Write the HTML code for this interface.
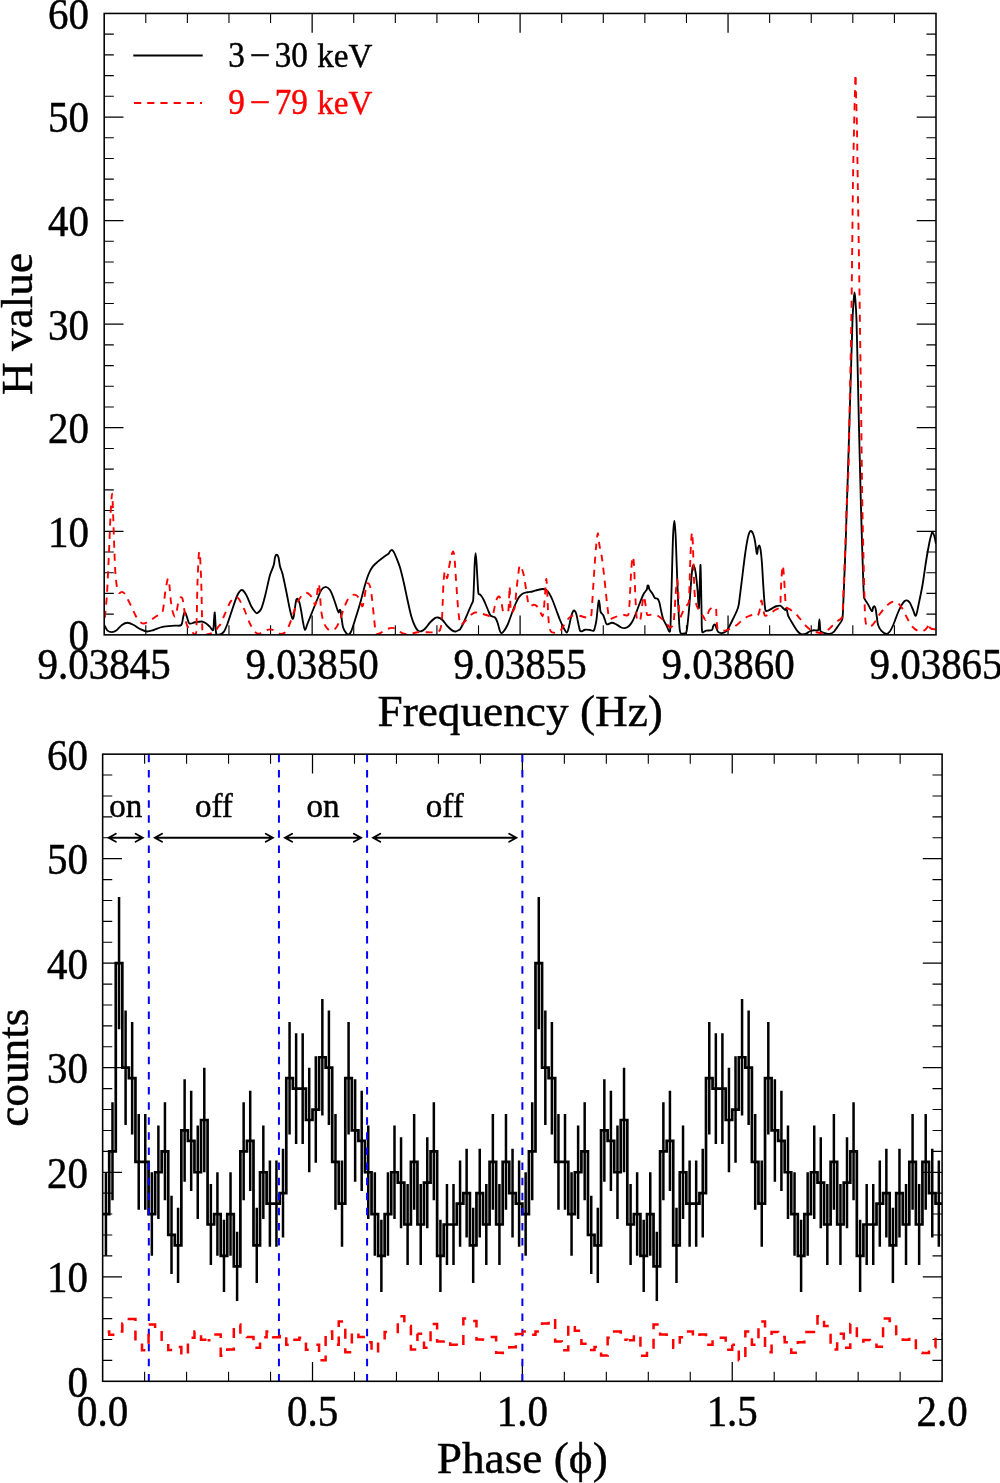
<!DOCTYPE html>
<html lang="en">
<head>
<meta charset="utf-8">
<title>H-test periodogram and pulse profile</title>
<style>
html,body{margin:0;padding:0;background:#fff;}
body{width:1000px;height:1483px;overflow:hidden;font-family:"Liberation Serif", "DejaVu Serif", serif;}
svg text{font-family:"Liberation Serif", "DejaVu Serif", serif;stroke:currentColor;stroke-width:0.45px;paint-order:stroke fill;}
</style>
</head>
<body>
<svg width="1000" height="1483" viewBox="0 0 1000 1483" style="display:block;font-family:'Liberation Serif', 'DejaVu Serif', serif">
<rect width="1000" height="1483" fill="#fff"/>
<g id="top-panel">
<path d="M312.15,634.85v-19.3 M312.15,13.45v19.3M520.1,634.85v-19.3 M520.1,13.45v19.3M728.05,634.85v-19.3 M728.05,13.45v19.3M104.2,531.28h19.3 M936,531.28h-19.3M104.2,427.72h19.3 M936,427.72h-19.3M104.2,324.15h19.3 M936,324.15h-19.3M104.2,220.58h19.3 M936,220.58h-19.3M104.2,117.02h19.3 M936,117.02h-19.3" stroke="#000" stroke-width="1.25" fill="none"/>
<path d="M145.79,634.85v-9.6 M145.79,13.45v9.6M187.38,634.85v-9.6 M187.38,13.45v9.6M228.97,634.85v-9.6 M228.97,13.45v9.6M270.56,634.85v-9.6 M270.56,13.45v9.6M353.74,634.85v-9.6 M353.74,13.45v9.6M395.33,634.85v-9.6 M395.33,13.45v9.6M436.92,634.85v-9.6 M436.92,13.45v9.6M478.51,634.85v-9.6 M478.51,13.45v9.6M561.69,634.85v-9.6 M561.69,13.45v9.6M603.28,634.85v-9.6 M603.28,13.45v9.6M644.87,634.85v-9.6 M644.87,13.45v9.6M686.46,634.85v-9.6 M686.46,13.45v9.6M769.64,634.85v-9.6 M769.64,13.45v9.6M811.23,634.85v-9.6 M811.23,13.45v9.6M852.82,634.85v-9.6 M852.82,13.45v9.6M894.41,634.85v-9.6 M894.41,13.45v9.6M104.2,614.14h9.6 M936,614.14h-9.6M104.2,593.42h9.6 M936,593.42h-9.6M104.2,572.71h9.6 M936,572.71h-9.6M104.2,552h9.6 M936,552h-9.6M104.2,510.57h9.6 M936,510.57h-9.6M104.2,489.86h9.6 M936,489.86h-9.6M104.2,469.14h9.6 M936,469.14h-9.6M104.2,448.43h9.6 M936,448.43h-9.6M104.2,407h9.6 M936,407h-9.6M104.2,386.29h9.6 M936,386.29h-9.6M104.2,365.58h9.6 M936,365.58h-9.6M104.2,344.86h9.6 M936,344.86h-9.6M104.2,303.44h9.6 M936,303.44h-9.6M104.2,282.72h9.6 M936,282.72h-9.6M104.2,262.01h9.6 M936,262.01h-9.6M104.2,241.3h9.6 M936,241.3h-9.6M104.2,199.87h9.6 M936,199.87h-9.6M104.2,179.16h9.6 M936,179.16h-9.6M104.2,158.44h9.6 M936,158.44h-9.6M104.2,137.73h9.6 M936,137.73h-9.6M104.2,96.3h9.6 M936,96.3h-9.6M104.2,75.59h9.6 M936,75.59h-9.6M104.2,54.88h9.6 M936,54.88h-9.6M104.2,34.16h9.6 M936,34.16h-9.6" stroke="#000" stroke-width="1.1" fill="none"/>
<clipPath id="ct"><rect x="104.2" y="13.45" width="831.8" height="621.4"/></clipPath>
<g clip-path="url(#ct)" fill="none" stroke-linejoin="round">
<path d="M104.25,625C104.79,625.93 106.22,629.42 107.5,630.6C108.64,631.65 110.44,632.1 111.9,632.1C113.36,632.1 115,631.49 116.25,630.6C117.92,629.42 120.03,626.31 121.9,625C123.55,623.85 125.53,622.75 127.5,622.75C129.47,622.75 131.77,624.01 133.75,625C135.83,626.04 137.81,627.92 140,629C142.19,630.08 144.61,631.33 146.9,631.5C149.19,631.67 151.51,630.66 153.75,630C156.35,629.23 159.47,627.53 162.5,626.9C166.04,626.17 171.88,625.92 175,625.6C177.08,625.39 179.9,626.35 181.25,625C182.6,623.65 182.52,619.68 183.1,617.5C183.6,615.62 184.12,612 184.75,611.9C185.38,611.8 186.22,615.22 186.9,616.9C187.68,618.83 188.05,622.61 189.4,623.5C190.75,624.39 193.11,622.55 195,622.25C197.08,621.92 200.03,621.29 201.9,621.5C203.49,621.68 204.92,622.61 206.25,623.5C207.6,624.4 208.86,625.82 210,626.9C211.06,627.91 212.43,631.15 213.1,630C213.77,628.85 213.72,622.92 214,620C214.24,617.5 214.5,611.88 214.75,612.5C215,613.12 215.25,620.21 215.5,623.75C215.74,627.08 215.6,631.94 216.25,633.75C216.62,634.77 218.34,634.86 219.4,634.6C220.65,634.29 222.73,633.27 223.75,631.9C225.1,630.09 226.44,626.55 227.5,623.75C228.96,619.89 230.83,613.54 232.5,608.75C234.1,604.14 235.93,598.12 237.5,595C238.49,593.02 240.44,590 241.9,590C243.36,590 245.15,593.09 246.25,595C247.81,597.71 249.69,603.33 251.25,606.25C252.45,608.49 254.56,611.36 255.6,612.5C256.05,612.99 256.95,613.47 257.5,613.1C258.44,612.48 260.47,610.5 261.25,608.75C262.5,605.94 263.91,600.46 265,596.25C266.46,590.62 268.54,580.21 270,575C270.96,571.57 272.92,567.92 273.75,565C274.45,562.56 274.52,559.21 275,557.5C275.28,556.48 276.02,554.75 276.6,554.75C277.18,554.75 278.18,556.43 278.5,557.5C279.07,559.42 279.33,563.54 280,566.25C280.63,568.81 281.86,571.19 282.5,573.75C283.54,577.92 285.04,585.41 286.25,591.25C287.5,597.29 288.96,605.42 290,610C290.67,612.96 291.88,617.71 292.5,618.75C292.98,619.55 293.55,617.16 293.75,616.25C294.17,614.38 294.58,610.21 295,607.5C295.39,604.99 295.83,601.46 296.25,600C296.41,599.43 297.04,598.38 297.5,598.75C298.02,599.17 299,601.16 299.4,602.5C300.02,604.58 300.71,608.32 301.25,611.25C301.87,614.58 302.48,619.38 303.1,622.5C303.61,625.03 304.27,629.79 305,630C305.73,630.21 306.67,625.83 307.5,623.75C308.75,620.62 310.83,615.42 312.5,611.25C314.17,607.08 316.04,602.29 317.5,598.75C318.71,595.82 319.9,591.98 321.25,590C322.25,588.53 324.14,586.9 325.6,586.9C327.06,586.9 328.98,588.52 330,590C331.36,591.98 332.64,595.78 333.75,598.75C335,602.08 336.67,607.71 337.5,610C337.82,610.88 338.38,612.5 338.75,612.5C339.12,612.5 339.44,610.32 339.75,610C339.99,609.75 340.52,610.26 340.6,610.6C340.89,611.85 341.16,615.21 341.5,617.5C341.92,620.32 342.31,624.9 343.1,627.5C343.72,629.55 345.35,631.92 346.25,633.1C346.8,633.82 347.67,634.91 348.5,634.6C349.33,634.29 350.66,632.57 351.25,631.25C352.33,628.82 353.8,623.77 355,620C356.46,615.42 358.44,609.2 360,603.75C361.67,597.92 363.54,590 365,585C366.11,581.21 367.5,576.77 368.75,573.75C369.75,571.35 371.04,568.88 372.5,566.9C373.9,565 375.74,563.47 377.5,561.9C379.38,560.23 381.88,558.3 383.75,556.9C385.36,555.69 387.71,554.44 388.75,553.5C389.39,552.92 389.48,551.83 390,551.25C390.51,550.69 391.27,549.89 391.9,550C392.52,550.11 393.31,551.14 393.75,551.9C394.48,553.15 395.49,555.6 396.25,557.5C397.29,560.1 398.98,564.09 400,567.5C401.25,571.67 402.59,577.48 403.75,582.5C405,587.92 406.25,594.38 407.5,600C408.71,605.43 410,611.88 411.25,616.25C412.23,619.67 413.86,623.86 415,626.25C415.77,627.86 417.06,629.77 418.1,630.6C418.94,631.27 420.21,631.53 421.25,631.25C422.4,630.94 423.94,629.81 425,628.75C426.46,627.29 428.33,624.27 430,622.5C431.52,620.88 433.65,618.93 435,618.1C435.9,617.55 437.08,617.24 438.1,617.5C439.35,617.82 441.27,618.85 442.5,620C444.07,621.46 445.83,624.48 447.5,626.25C449.02,627.86 451.15,629.73 452.5,630.6C453.4,631.19 454.56,631.6 455.6,631.5C456.64,631.4 458.02,630.35 458.75,630C459.17,629.8 459.74,629.78 460,629.4C460.83,628.15 462.62,624.86 463.75,622.5C465,619.89 466.25,616.67 467.5,613.75C468.75,610.83 470.32,607.19 471.25,605C471.87,603.54 472.91,602.18 473.1,600.6C473.56,596.85 473.74,588.54 474,582.5C474.27,576.15 474.48,567.4 474.75,562.5C474.92,559.36 475.31,553.1 475.6,553.1C475.89,553.1 476.28,559.36 476.5,562.5C476.82,566.98 477.17,574.79 477.5,580C477.79,584.59 477.98,591.25 478.5,593.75C478.66,594.55 480.08,594.38 480.6,595C481.48,596.04 482.87,598.24 483.75,600C484.9,602.29 486.36,606.15 487.5,608.75C488.51,611.04 489.35,614.14 490.6,615.6C491.64,616.81 493.87,616.37 495,617.5C496.15,618.65 496.86,620.75 497.5,622.5C498.33,624.79 499.33,629.48 500,631.25C500.28,631.99 500.88,633.1 501.5,633.1C502.12,633.1 503.17,632.03 503.75,631.25C504.75,629.9 506.48,627.21 507.5,625C508.75,622.29 510,618.33 511.25,615C512.5,611.67 513.75,607.92 515,605C516.1,602.43 517.5,599.38 518.75,597.5C519.73,596.03 521.04,594.62 522.5,593.75C523.96,592.88 525.83,592.62 527.5,592.25C529.14,591.88 530.86,591.87 532.5,591.5C534.17,591.12 535.83,590.42 537.5,590C539.15,589.59 541.04,589 542.5,589C543.79,589 545.18,589.27 546.25,590C547.4,590.79 548.53,592.37 549.4,593.75C550.44,595.42 551.6,597.86 552.5,600C553.64,602.71 555,606.67 556.25,610C557.5,613.33 558.75,616.98 560,620C561.14,622.75 562.6,626.02 563.75,628.1C564.62,629.68 566.07,632.6 566.9,632.5C567.73,632.4 568.29,629.22 568.75,627.5C569.48,624.79 570.52,618.96 571.25,616.25C571.71,614.53 572.58,612.19 573.1,611.25C573.34,610.83 574.02,610.3 574.4,610.6C574.92,611.02 575.89,612.59 576.25,613.75C576.87,615.73 577.48,619.69 578.1,622.5C578.7,625.21 579.37,629.14 580,630.6C580.27,631.21 581.24,631.36 581.9,631.25C582.73,631.11 583.87,629.93 585,629.75C586.35,629.54 588.54,629.86 590,630C591.26,630.12 593.01,631.63 593.75,630.6C594.79,629.14 595.67,624.42 596.25,621.25C596.88,617.82 597.08,613.44 597.5,610C597.88,606.86 598.38,601.43 598.75,600.6C599.12,599.77 599.51,603.52 599.75,605C600.06,606.88 600.04,610.23 600.6,611.9C601.02,613.16 602.47,613.83 603.1,615C603.83,616.35 604.37,618.43 605,620C605.6,621.48 605.75,623.94 606.9,624.4C608.05,624.86 610.34,622.75 611.9,622.75C613.45,622.75 614.87,623.7 616.25,624.4C617.81,625.19 619.79,626.88 621.25,627.5C622.42,627.99 623.75,628.31 625,628.1C626.25,627.89 627.72,627.19 628.75,626.25C630,625.11 631.5,623.08 632.5,621.25C633.75,618.96 635.07,615.45 636.25,612.5C637.5,609.38 638.75,605.62 640,602.5C641.18,599.55 642.6,595.93 643.75,593.75C644.58,592.17 646.27,590.76 646.9,589.4C647.44,588.24 647.23,586.23 647.5,585.6C647.63,585.29 648.35,585.3 648.5,585.6C648.82,586.23 648.83,588.23 649.4,589.4C650.07,590.76 651.57,592.3 652.5,593.75C653.41,595.16 654.17,597.27 655,598.1C655.61,598.71 656.89,598.14 657.5,598.75C658.23,599.48 659,601.16 659.4,602.5C660.02,604.58 660.63,608.54 661.25,611.25C661.82,613.76 662.27,616.46 663.1,618.75C663.9,620.94 665.12,622.96 666.25,625C667.4,627.08 669.36,633.59 670,631.25C670.79,628.33 670.73,615.42 671,607.5C671.32,598.33 671.6,586.67 671.9,576.25C672.25,564.17 672.68,544.27 673.1,535C673.32,530.19 673.98,520.6 674.4,520.6C674.82,520.6 675.36,530.19 675.6,535C676.02,543.23 676.48,558.96 676.9,570C677.29,580.42 677.68,591.88 678.1,601.25C678.47,609.59 678.98,620.94 679.4,626.25C679.58,628.56 679.88,631.89 680.6,633.1C681.14,634.01 682.81,633.6 683.75,633.5C684.64,633.41 685.89,633.32 686.25,632.5C686.88,631.08 687.21,627.52 687.5,625C688.02,620.42 688.84,611.67 689.4,605C690.02,597.5 690.73,586.25 691.25,580C691.59,575.83 692.08,569.9 692.5,567.5C692.63,566.75 693.35,564.96 693.75,565.6C694.27,566.43 695.24,570.15 695.6,572.5C696.23,576.57 696.98,584.16 697.5,590C698.02,595.93 698.43,607.27 698.75,608.1C699.07,608.93 699.23,599.37 699.4,595C699.61,589.69 699.82,581.25 700,576.25C700.14,572.5 700.33,563.96 700.5,565C700.67,566.04 700.87,576.67 701,582.5C701.18,590.62 701.39,605.52 701.6,613.75C701.75,619.8 701.48,629.09 702.25,631.9C702.62,633.25 704.87,630.87 706.25,630.6C707.86,630.28 710.76,630.73 711.9,630C713.01,629.3 712.62,627.18 713.1,626.25C713.47,625.51 714.23,624.19 714.75,624.4C715.27,624.61 715.78,626.45 716.25,627.5C716.81,628.75 717.16,630.97 718.1,631.9C719.04,632.83 720.58,633.21 721.9,633.1C723.26,632.99 725.22,631.98 726.25,631.25C727.1,630.65 727.6,629.66 728.1,628.75C729.14,626.88 731.11,622.95 732.5,620C734.17,616.46 736.85,611.67 738.1,607.5C739.31,603.46 739.43,599.18 740,595C740.73,589.58 741.67,581.67 742.5,575C743.33,568.33 744.17,560.93 745,555C745.73,549.78 746.77,543.15 747.5,539.4C747.96,537.06 748.82,533.9 749.4,532.5C749.68,531.83 750.38,530.79 751,531C751.62,531.21 752.68,532.68 753.1,533.75C753.77,535.46 754.52,538.72 755,541.25C755.63,544.58 756.38,552.71 756.9,553.75C757.42,554.79 757.68,548.86 758.1,547.5C758.33,546.77 758.98,545.18 759.4,545.6C759.82,546.02 760.38,548.5 760.6,550C761.02,552.82 761.58,558.32 761.9,562.5C762.32,567.92 762.68,576.04 763.1,582.5C763.5,588.75 763.98,596.57 764.4,601.25C764.68,604.38 764.98,609.04 765.6,610.6C765.91,611.37 767.32,610.88 768.1,610.6C769.25,610.18 771.14,608.83 772.5,608.1C773.73,607.44 775,606.67 776.25,606.25C777.45,605.85 778.96,605.39 780,605.6C781.03,605.81 781.71,606.81 782.5,607.5C783.33,608.23 784.42,609.79 785,610C785.5,610.18 785.68,608.75 786,608.75C786.32,608.75 786.75,609.51 786.9,610C787.25,611.14 787.41,613.82 788.1,615.6C788.83,617.48 790.17,619.38 791.25,621.25C792.4,623.23 793.75,625.62 795,627.5C796.16,629.23 797.5,631.35 798.75,632.5C799.78,633.45 801.25,634.23 802.5,634.4C803.75,634.57 805.06,634 806.25,633.5C807.5,632.98 808.75,631.79 810,631.25C811.19,630.74 812.47,630.41 813.75,630.25C815.1,630.08 817.27,630.92 818.1,630.25C818.93,629.58 818.59,627.59 818.75,626.25C818.97,624.44 819.19,619.4 819.4,619.4C819.61,619.4 819.8,624.27 820,626.25C820.17,627.92 819.77,630.11 820.6,631.25C821.43,632.39 823.53,632.64 825,633.1C826.43,633.55 827.94,634.2 829.4,634C830.86,633.8 832.59,633.02 833.75,631.9C835.31,630.4 837.33,627.08 838.75,625C839.99,623.18 841.72,621.54 842.25,619.4C842.98,616.48 842.9,611.47 843.1,607.5C843.46,600.27 843.98,586.42 844.4,576C844.81,565.67 845.24,555.33 845.6,545C846,533.5 846.4,519.5 846.8,507C847.19,494.67 847.62,482.33 848,470C848.45,455.5 849,436.67 849.5,420C850,403.33 850.5,386.67 851,370C851.5,353.33 852.05,331.67 852.5,320C852.76,313.33 853.37,304.58 853.7,300C853.88,297.49 854.22,292.5 854.5,292.5C854.78,292.5 855.22,297.49 855.4,300C855.73,304.58 856.28,313.33 856.5,320C856.88,331.67 857.32,353.33 857.7,370C858.08,386.67 858.42,403.67 858.8,420C859.18,436 859.67,454.67 860,468C860.27,478.67 860.51,489.33 860.8,500C861.12,511.79 861.52,526.08 861.9,538.75C862.28,551.17 862.75,566.21 863.1,576C863.36,583.17 863.58,593.4 864,597.5C864.12,598.66 865.01,599.6 865.6,600.6C866.39,601.95 867.75,603.9 868.75,605.6C869.8,607.38 871.17,610.93 871.9,611.25C872.62,611.57 872.68,608.33 873.1,607.5C873.37,606.96 873.98,606.04 874.4,606.25C874.82,606.46 875.4,607.85 875.6,608.75C876.02,610.62 876.48,614.79 876.9,617.5C877.28,620 877.38,622.82 878.1,625C878.77,627.03 879.89,629.1 881.25,630.6C882.6,632.09 884.79,633.89 886.25,634C887.71,634.11 889.08,632.5 890,631.25C891.25,629.54 892.65,626.32 893.75,623.75C895,620.83 896.25,616.77 897.5,613.75C898.64,610.99 900.1,607.68 901.25,605.6C902.12,604.03 903.46,602.12 904.4,601.25C905.05,600.65 906.06,600.12 906.9,600.4C907.83,600.71 909.26,601.95 910,603.1C911.03,604.7 912.12,607.92 913.1,610C913.99,611.89 914.96,616.64 915.9,615.6C916.84,614.56 917.89,607.72 918.75,603.75C919.85,598.65 921.42,591.28 922.5,585C923.75,577.71 925.1,567.08 926.25,560C927.2,554.15 928.57,546.67 929.4,542.5C929.9,539.98 930.73,536.71 931.25,535C931.54,534.04 931.98,532.04 932.5,532.25C933.02,532.46 933.98,534.84 934.4,536.25C934.98,538.21 935.73,542.71 936,544" stroke="#000" stroke-width="1.85"/>
<path d="M855.5,77C855.42,79.17 855.12,85.67 855,90C854.75,98.83 854.3,116.67 854,130C853.67,145 853.25,163.33 853,180C852.7,200 852.48,226.67 852.2,250C851.9,274.67 851.6,303 851.2,328C850.82,352 850.25,376.67 849.8,400C849.36,422.67 849.03,450.08 848.5,468C848.11,481.18 847.12,494.67 846.6,507.5C846.1,520 845.82,533.54 845.4,545C845.02,555.42 844.52,565.83 844.1,576.25C843.68,586.67 843.27,600.62 842.9,607.5C842.72,610.85 843.01,615.1 841.9,617.5C840.9,619.67 838.03,620.31 836.25,621.9C834.27,623.67 831.88,626.33 830,628.1C828.38,629.62 826.35,631.67 825,632.5C824.1,633.05 822.95,633.1 821.9,633.1C820.65,633.1 818.95,632.79 817.5,632.5C815.93,632.19 814,632.08 812.5,631.25C810.62,630.21 808.14,628.14 806.25,626.25C804.17,624.17 801.88,620.94 800,618.75C798.37,616.84 796.67,614.66 795,613.1C793.49,611.68 791.5,610.43 790,609.4C788.71,608.51 786.77,608.26 786,606.9C785.23,605.54 785.53,603.14 785.4,601.25C785.19,598.23 785,592.91 784.75,588.75C784.48,584.17 784.06,577.61 783.75,573.75C783.53,571.03 783.15,566.43 782.9,565.6C782.65,564.77 782.35,567.68 782.25,568.75C781.98,571.57 781.51,577.91 781.25,582.5C780.98,587.29 780.81,593.43 780.6,597.5C780.44,600.64 780.93,604.82 780,606.9C779.2,608.69 776.63,608.91 775,610C773.12,611.25 770.42,613.47 768.75,614.4C767.6,615.04 765.83,616.02 765,615.6C764.17,615.18 764.07,613.16 763.75,611.9C763.33,610.23 762.92,607.48 762.5,605.6C762.13,603.92 761.77,599.66 761.25,600.6C760.73,601.54 759.98,608.75 759.4,611.25C759.05,612.76 758.48,615.02 757.75,615.6C757.02,616.18 755.96,614.75 755,614.75C753.71,614.75 751.59,615.03 750,615.6C748.12,616.27 745.66,617.41 743.75,618.75C741.67,620.22 739.58,622.84 737.5,624.4C735.56,625.85 733.12,627.1 731.25,628.1C729.63,628.96 728.05,630.03 726.25,630.4C724.38,630.78 721.42,630.57 720,630.4C719.18,630.3 718.06,630.16 717.75,629.4C717.21,628.08 716.94,624.82 716.75,622.5C716.5,619.48 716.44,613.79 716.25,611.25C716.15,609.9 716.23,607.88 715.6,607.25C714.98,606.62 713.45,607.08 712.5,607.5C711.47,607.96 710.14,608.9 709.4,610C708.57,611.25 708.13,613.33 707.5,615C706.87,616.67 706.33,619.79 705.6,620C704.87,620.21 703.91,617.52 703.1,616.25C702.17,614.79 701.03,612.92 700,611.25C698.97,609.58 697.57,608.09 696.9,606.25C696.07,603.96 695.35,600.46 695,597.5C694.53,593.54 694.32,587.5 694.1,582.5C693.85,576.88 693.7,570 693.5,563.75C693.3,557.5 693.13,550.21 692.9,545C692.71,540.83 692.38,533.33 692.1,532.5C691.83,531.67 691.42,537.49 691.25,540C690.97,544.17 690.63,551.66 690.4,557.5C690.12,564.58 689.88,575 689.6,582.5C689.36,589.17 689.31,598.54 688.75,602.5C688.54,603.99 687.05,604.98 686.25,606.25C685.21,607.92 683.58,610.62 682.5,612.5C681.55,614.15 680.38,618.75 679.75,617.5C679.12,616.25 679,609.17 678.75,605C678.48,600.42 678.38,594.21 678.1,590C677.88,586.57 677.52,578.92 677.1,579.75C676.68,580.58 676,589.91 675.6,595C675.15,600.67 674.82,608.75 674.4,613.75C674.09,617.51 673.83,622.75 673.1,625C672.7,626.21 671.14,627.57 670,627.25C668.86,626.93 667.5,624.41 666.25,623.1C665.04,621.83 663.83,620.54 662.5,619.4C661.04,618.15 659.17,616.43 657.5,615.6C655.97,614.83 654.17,614.5 652.5,614.4C650.83,614.3 648.54,615.73 647.5,615C646.46,614.27 646.56,611.69 646.25,610C645.83,607.71 645.42,603.54 645,601.25C644.69,599.56 644.17,596.04 643.75,596.25C643.33,596.46 642.8,600.4 642.5,602.5C642.08,605.42 641.67,610.73 641.25,613.75C640.93,616.05 640.58,619.46 640,620.6C639.66,621.27 638.22,621.18 637.75,620.6C637.17,619.88 636.67,617.75 636.5,616.25C636.14,613.02 635.86,606.25 635.6,601.25C635.31,595.62 635.02,588.54 634.75,582.5C634.49,576.67 634.27,569.27 634,565C633.83,562.29 633.39,557.83 633.1,556.9C632.84,556.06 632.37,558.53 632.25,559.4C631.94,561.58 631.49,566.46 631.25,570C630.92,574.89 630.56,582.92 630.25,588.75C629.96,594.17 629.76,600.62 629.4,605C629.13,608.35 629.04,613.33 628.1,615C627.39,616.26 625.19,614.83 623.75,615C621.98,615.21 619.38,615.73 617.5,616.25C615.79,616.72 613.85,617.68 612.5,618.1C611.49,618.41 609.85,619.7 609.4,618.75C608.57,616.98 608,611.27 607.5,607.5C606.87,602.71 606.23,595.83 605.6,590C604.98,584.17 604.37,577.92 603.75,572.5C603.18,567.49 602.62,562.08 601.9,557.5C601.24,553.3 600.07,549.07 599.4,545C598.75,541.05 598.42,533.1 597.9,533.1C597.38,533.1 596.66,541.02 596.25,545C595.73,550.11 595.2,557.5 594.75,563.75C594.23,571.04 593.58,581.46 593.1,588.75C592.69,595 592.32,602.71 591.9,607.5C591.61,610.85 591.75,615.88 590.6,617.5C589.52,619.03 586.84,617.55 585,617.25C583.02,616.93 580.9,615.76 578.75,615.6C576.46,615.43 573.33,615.31 571.25,616.25C569.17,617.19 567.7,619.39 566.25,621.25C564.79,623.12 563.75,625.67 562.5,627.5C561.36,629.17 560.52,631.46 558.75,632.25C556.98,633.04 553.46,633.04 551.9,632.25C550.34,631.46 549.81,629.24 549.4,627.5C548.82,625.04 548.65,620.84 548.4,617.5C548.12,613.75 547.95,609.17 547.75,605C547.53,600.42 547.35,594.33 547.1,590C546.89,586.33 546.6,578.17 546.25,579C545.9,579.83 545.42,589.83 545,595C544.6,600 544.17,606.46 543.75,610C543.5,612.11 543.12,616.04 542.5,616.25C541.88,616.46 540.91,612.88 540,611.25C539.07,609.58 537.94,607.33 536.9,606.25C536.09,605.41 534.8,604.79 533.75,604.75C532.7,604.71 531.43,605.96 530.6,606C529.9,606.04 529.03,605.64 528.75,605C528.23,603.79 527.85,600.85 527.5,598.75C526.98,595.62 526.23,590.21 525.6,586.25C525.01,582.5 524.37,577.92 523.75,575C523.3,572.87 522.52,570.38 521.9,568.75C521.42,567.51 520.48,565.25 520,565.25C519.52,565.25 519.2,567.55 519,568.75C518.62,571 518.15,575.41 517.75,578.75C517.29,582.61 516.69,587.51 516.25,591.9C515.79,596.48 515.52,603.02 515,606.25C514.71,608.01 513.77,610.21 513.1,611.25C512.66,611.94 511.22,613.28 511,612.5C510.52,610.83 510.45,605 510.25,601.25C510.02,596.88 509.81,586.25 509.6,586.25C509.39,586.25 509.25,596.98 509,601.25C508.79,604.81 508.67,610.09 508.1,611.9C507.85,612.7 506.43,612.21 505.6,612.1C504.77,611.99 503.51,612.03 503.1,611.25C502.48,610.07 502.32,607.08 501.9,605C501.48,602.92 501.08,600.17 500.6,598.75C500.3,597.88 499.52,596.71 499,596.5C498.48,596.29 497.8,596.98 497.5,597.5C496.93,598.5 496.07,600.78 495.6,602.5C494.98,604.79 494.37,608.92 493.75,611.25C493.28,613.04 493.15,615.88 491.9,616.5C490.65,617.12 488.12,615.54 486.25,615C484.27,614.43 481.88,613.52 480,613.1C478.36,612.74 476.63,612.09 475,612.5C473.33,612.92 471.48,614.31 470,615.6C468.33,617.06 466.15,620 465,621.25C464.4,621.9 463.77,622.53 463.1,623.1C462.37,623.73 461.22,625.52 460.6,625C459.98,624.48 459.66,621.69 459.4,620C458.98,617.29 458.44,612.51 458.1,608.75C457.68,604.17 457.29,597.92 456.9,592.5C456.48,586.67 456.02,579.79 455.6,573.75C455.2,567.92 454.82,559.96 454.4,556.25C454.22,554.62 453.62,551.5 453.1,551.5C452.58,551.5 451.67,554.6 451.25,556.25C450.52,559.12 449.42,565.11 448.75,568.75C448.18,571.85 447.71,577.16 447.25,578.1C446.79,579.04 446.42,575.5 446,574.4C445.63,573.42 445.06,570.49 444.75,571.5C444.33,572.85 443.75,578.82 443.5,582.5C443.17,587.46 443.02,595 442.75,601.25C442.48,607.5 442.36,615.21 441.9,620C441.58,623.38 440.94,627.96 440,630C439.39,631.32 437.68,631.99 436.25,632.25C434.17,632.62 430.42,632.25 427.5,632.25C424.38,632.25 420.21,632 417.5,632.25C415.37,632.45 413.33,633.46 411.25,633.75C409.19,634.04 407.04,634.41 405,634C402.92,633.58 400.62,632.23 398.75,631.25C397.01,630.34 395.42,628.56 393.75,628.1C392.14,627.66 390.33,627.96 388.75,628.5C386.88,629.13 384.48,630.98 382.5,631.9C380.69,632.74 378.08,634.32 376.9,634C375.72,633.68 375.63,631.4 375.4,630C374.88,626.83 374.29,620 373.75,615C373.17,609.58 372.52,602.29 371.9,597.5C371.41,593.73 370.69,588.65 370,586.25C369.64,585.01 368.38,583.1 367.75,583.1C367.12,583.1 366.51,585.12 366.25,586.25C365.69,588.65 365.02,594.17 364.4,597.5C363.85,600.43 363.13,605.42 362.5,606.25C361.87,607.08 361.23,603.75 360.6,602.5C359.77,600.83 358.53,597.57 357.5,596.25C356.78,595.33 355.44,594.71 354.4,594.6C353.36,594.49 352.12,594.92 351.25,595.6C350.1,596.5 348.45,598.33 347.5,600C346.25,602.19 344.86,605.78 343.75,608.75C342.5,612.08 341.25,616.88 340,620C338.96,622.6 337.6,625.73 336.25,627.5C335.17,628.91 333.36,630.39 331.9,630.6C330.44,630.81 328.63,629.87 327.5,628.75C326.14,627.4 324.57,624.79 323.75,622.5C322.71,619.58 321.77,615.06 321.25,611.25C320.62,606.67 320.42,599.58 320,595C319.66,591.24 319.27,583.75 318.75,583.75C318.23,583.75 317.48,591.46 316.9,595C316.35,598.33 315.77,603.96 315.25,605C314.73,606.04 314.35,602.46 313.75,601.25C312.98,599.68 311.85,597.02 310.6,595.6C309.45,594.3 307.81,592.64 306.25,592.75C304.69,592.86 302.54,594.67 301.25,596.25C299.58,598.29 297.6,601.92 296.25,605C294.79,608.33 293.75,612.71 292.5,616.25C291.32,619.61 290,623.54 288.75,626.25C287.73,628.46 286.46,631.25 285,632.5C283.7,633.62 281.67,634.07 280,633.75C278.33,633.43 276.67,631.33 275,630.6C273.43,629.92 271.71,629.3 270,629.4C268.12,629.51 265.62,630.52 263.75,631.25C262.01,631.92 260.21,633.64 258.75,633.75C257.36,633.85 255.92,632.95 255,631.9C253.54,630.23 251.39,626.62 250,623.75C248.33,620.31 246.46,614.69 245,611.25C243.83,608.5 242.29,605.18 241.25,603.1C240.5,601.6 239.58,599.78 238.75,598.75C238.1,597.94 237.08,597.01 236.25,596.9C235.42,596.79 234.44,597.48 233.75,598.1C232.71,599.03 230.94,600.82 230,602.5C228.54,605.11 226.67,610 225,613.75C223.33,617.5 221.04,622.92 220,625C219.74,625.53 219.13,625.8 218.75,626.25C217.71,627.46 215.62,630.91 213.75,632.25C211.97,633.53 209.29,633.96 207.5,634.3C206.03,634.58 203.82,635.56 203,634.3C202.12,632.96 202.34,628.94 202.25,626.25C201.96,617.62 201.62,594.38 201.25,582.5C200.96,573.33 200.31,560.1 200,555C199.94,553.95 199.61,551.9 199.4,551.9C199.19,551.9 198.82,553.95 198.75,555C198.43,560.1 197.79,573.33 197.5,582.5C197.12,594.38 196.82,617.62 196.5,626.25C196.4,628.95 196.47,633.47 195.6,634.3C194.72,635.13 192.51,632.5 191.25,631.25C189.9,629.91 188.44,628.11 187.5,626.25C186.56,624.38 186,622.14 185.6,620C185.02,616.88 184.52,611.04 184,607.5C183.57,604.57 183.07,600.46 182.5,598.75C182.25,597.98 181.27,596.83 180.6,597.25C179.93,597.67 178.89,599.8 178.5,601.25C177.82,603.79 177.12,609.96 176.5,612.5C176.15,613.91 175.46,616.92 174.75,616.5C174.04,616.08 172.78,612.26 172.25,610C171.56,607.04 171.03,602.52 170.6,598.75C170.12,594.58 169.82,588.38 169.4,585C169.13,582.81 168.52,578.92 168.1,578.5C167.68,578.08 167.18,581.14 166.9,582.5C166.38,585.04 165.53,590 165,593.75C164.48,597.49 164.27,601.77 163.75,605C163.31,607.73 163.15,611.23 161.9,613.1C160.7,614.89 158.07,615.1 156.25,616.25C154.27,617.5 152.08,619.39 150,620.6C148.01,621.75 145.62,623.5 143.75,623.5C141.88,623.5 140.09,621.99 138.75,620.6C137.29,619.08 136.12,616.54 135,614.4C133.75,612.01 132.4,608.65 131.25,606.25C130.24,604.15 129.14,602.04 128.1,600C127.08,597.99 126.03,595.35 125,594C124.24,593.01 122.83,592.05 121.9,591.9C120.99,591.75 120.13,593.42 119.4,593.1C118.67,592.78 117.77,591.18 117.5,590C116.87,587.19 115.97,580.86 115.6,576.25C115.08,569.79 114.73,559.59 114.4,551.25C113.98,540.83 113.48,523.33 113.1,513.75C112.83,507.08 112.52,493.75 112.1,493.75C111.68,493.75 110.95,507.07 110.6,513.75C110.04,524.38 109.37,543.96 108.75,557.5C108.18,570 107.53,585.21 106.9,595C106.45,602.1 105.38,611.75 105,616.25C104.84,618.16 104.67,621.04 104.6,622" stroke="#f00" stroke-width="1.9" stroke-dasharray="7 6.16"/>
<path d="M855.5,77C855.62,80.83 855.98,92.33 856.2,100C856.45,108.83 856.81,120 857,130C857.27,144.17 857.52,166.67 857.8,185C858.13,206.67 858.63,236.17 859,260C859.35,282.67 859.68,305.33 860,328C860.33,351.33 860.7,376.67 861,400C861.29,422.67 861.55,449.04 861.8,468C862,483.25 862.22,498.83 862.5,513.75C862.78,528.33 863.18,543.96 863.5,557.5C863.79,570 864.19,586.67 864.4,595C864.5,599.17 864.61,603.54 864.75,607.5C864.88,611.25 864.96,615.73 865.25,618.75C865.47,621.06 865.81,624.31 866.5,625.6C866.98,626.49 868.4,626.6 869.4,626.5C870.4,626.4 871.67,625.79 872.5,625C873.64,623.92 875.09,621.73 876.25,620C877.5,618.12 878.61,615.74 880,613.75C881.46,611.67 883.33,609.27 885,607.5C886.52,605.88 888.43,604.1 890,603.1C891.32,602.26 893.05,601.5 894.4,601.5C895.74,601.5 897.1,602.2 898.1,603.1C899.45,604.31 901.27,606.7 902.5,608.75C904.07,611.36 905.83,615.73 907.5,618.75C909.04,621.54 910.83,624.92 912.5,626.9C913.84,628.48 916.04,629.88 917.5,630.6C918.64,631.16 920,631.35 921.25,631.25C922.5,631.15 923.96,630.73 925,630C926.04,629.27 926.92,628.05 927.5,626.9C928.08,625.75 928.18,623.1 928.5,623.1C928.82,623.1 928.94,625.96 929.4,626.9C929.78,627.68 930.44,628.42 931.25,628.75C932.28,629.17 934.88,629.29 935.6,629.4" stroke="#f00" stroke-width="1.9" stroke-dasharray="7 6.16" stroke-dashoffset="12.16"/>
</g>
<rect x="104.2" y="13.45" width="831.8" height="621.4" fill="none" stroke="#000" stroke-width="1.56"/>
<g font-size="41" text-anchor="end" fill="#000">
<text transform="translate(89,650.25) scale(1,1.060)">0</text>
<text transform="translate(89,546.68) scale(1,1.060)">10</text>
<text transform="translate(89,443.12) scale(1,1.060)">20</text>
<text transform="translate(89,339.55) scale(1,1.060)">30</text>
<text transform="translate(89,235.98) scale(1,1.060)">40</text>
<text transform="translate(89,132.42) scale(1,1.060)">50</text>
<text transform="translate(89,28.85) scale(1,1.060)">60</text>
</g>
<g font-size="41" text-anchor="middle" fill="#000">
<text transform="translate(104.2,679) scale(1,1.060)">9.03845</text>
<text transform="translate(312.15,679) scale(1,1.060)">9.03850</text>
<text transform="translate(520.1,679) scale(1,1.060)">9.03855</text>
<text transform="translate(728.05,679) scale(1,1.060)">9.03860</text>
<text transform="translate(936,679) scale(1,1.060)">9.03865</text>
</g>
<text x="520.2" y="725.8" font-size="45.3" text-anchor="middle">Frequency (Hz)</text>
<text transform="translate(32.2,324) rotate(-90)" font-size="45.3" text-anchor="middle">H value</text>
<path d="M133.3,55.5H202.7" stroke="#000" stroke-width="2" fill="none"/>
<path d="M134,103H202" stroke="#f00" stroke-width="2" stroke-dasharray="7.2 6" fill="none"/>
<g font-size="33.1">
<text transform="translate(228.3,66.8) scale(1,1.060)" fill="#000" style="color:#000">3</text>
<text transform="translate(249.7,66) scale(1.1,1)" fill="#000" style="color:#000">−</text>
<text transform="translate(274.7,66.8) scale(1,1.060)" fill="#000" style="color:#000">30</text>
<text x="317.3" y="66.8" fill="#000" style="color:#000">keV</text>
<text transform="translate(228.3,114) scale(1,1.060)" fill="#f00" style="color:#f00">9</text>
<text transform="translate(249.7,113.2) scale(1.1,1)" fill="#f00" style="color:#f00">−</text>
<text transform="translate(274.7,114) scale(1,1.060)" fill="#f00" style="color:#f00">79</text>
<text x="317.3" y="114" fill="#f00" style="color:#f00">keV</text>
</g>
</g>
<g id="bottom-panel">
<path d="M312.51,1381.3v-19.3 M312.51,754.15v19.3M522.38,1381.3v-19.3 M522.38,754.15v19.3M732.24,1381.3v-19.3 M732.24,754.15v19.3M102.65,1276.78h19.3 M942.1,1276.78h-19.3M102.65,1172.25h19.3 M942.1,1172.25h-19.3M102.65,1067.72h19.3 M942.1,1067.72h-19.3M102.65,963.2h19.3 M942.1,963.2h-19.3M102.65,858.67h19.3 M942.1,858.67h-19.3" stroke="#000" stroke-width="1.25" fill="none"/>
<path d="M144.62,1381.3v-9.6 M144.62,754.15v9.6M186.6,1381.3v-9.6 M186.6,754.15v9.6M228.57,1381.3v-9.6 M228.57,754.15v9.6M270.54,1381.3v-9.6 M270.54,754.15v9.6M354.49,1381.3v-9.6 M354.49,754.15v9.6M396.46,1381.3v-9.6 M396.46,754.15v9.6M438.43,1381.3v-9.6 M438.43,754.15v9.6M480.4,1381.3v-9.6 M480.4,754.15v9.6M564.35,1381.3v-9.6 M564.35,754.15v9.6M606.32,1381.3v-9.6 M606.32,754.15v9.6M648.29,1381.3v-9.6 M648.29,754.15v9.6M690.26,1381.3v-9.6 M690.26,754.15v9.6M774.21,1381.3v-9.6 M774.21,754.15v9.6M816.18,1381.3v-9.6 M816.18,754.15v9.6M858.15,1381.3v-9.6 M858.15,754.15v9.6M900.13,1381.3v-9.6 M900.13,754.15v9.6M102.65,1360.39h9.6 M942.1,1360.39h-9.6M102.65,1339.49h9.6 M942.1,1339.49h-9.6M102.65,1318.59h9.6 M942.1,1318.59h-9.6M102.65,1297.68h9.6 M942.1,1297.68h-9.6M102.65,1255.87h9.6 M942.1,1255.87h-9.6M102.65,1234.96h9.6 M942.1,1234.96h-9.6M102.65,1214.06h9.6 M942.1,1214.06h-9.6M102.65,1193.15h9.6 M942.1,1193.15h-9.6M102.65,1151.35h9.6 M942.1,1151.35h-9.6M102.65,1130.44h9.6 M942.1,1130.44h-9.6M102.65,1109.53h9.6 M942.1,1109.53h-9.6M102.65,1088.63h9.6 M942.1,1088.63h-9.6M102.65,1046.82h9.6 M942.1,1046.82h-9.6M102.65,1025.91h9.6 M942.1,1025.91h-9.6M102.65,1005.01h9.6 M942.1,1005.01h-9.6M102.65,984.11h9.6 M942.1,984.11h-9.6M102.65,942.29h9.6 M942.1,942.29h-9.6M102.65,921.39h9.6 M942.1,921.39h-9.6M102.65,900.49h9.6 M942.1,900.49h-9.6M102.65,879.58h9.6 M942.1,879.58h-9.6M102.65,837.77h9.6 M942.1,837.77h-9.6M102.65,816.87h9.6 M942.1,816.87h-9.6M102.65,795.96h9.6 M942.1,795.96h-9.6M102.65,775.05h9.6 M942.1,775.05h-9.6" stroke="#000" stroke-width="1.1" fill="none"/>
<clipPath id="cb"><rect x="102.65" y="754.15" width="839.45" height="627.15"/></clipPath>
<g clip-path="url(#cb)" fill="none">
<path d="M105.93,1172.25V1255.87M112.49,1102.32V1200.37M119.05,897.09V1029.31M125.6,1010.47V1124.98M132.16,1021.89V1134.47M138.72,1113.9V1209.7M145.28,1113.9V1209.7M151.84,1172.25V1255.87M158.39,1125.5V1219M164.95,1102.32V1200.37M171.51,1195.86V1274.07M178.07,1207.73V1283.1M184.63,1079.23V1181.65M191.19,1090.76V1191.02M197.74,1125.5V1219M204.3,1067.72V1172.25M210.86,1184.03V1264.99M217.42,1172.25V1255.87M223.98,1219.66V1292.08M230.53,1172.25V1255.87M237.09,1231.66V1300.99M243.65,1102.32V1200.37M250.21,1090.76V1191.02M256.77,1207.73V1283.1M263.33,1125.5V1219M269.88,1160.51V1246.7M276.44,1160.51V1246.7M283,1148.81V1237.5M289.56,1021.89V1134.47M296.12,1033.32V1143.94M302.68,1033.32V1143.94M309.23,1067.72V1172.25M315.79,1056.24V1162.83M322.35,999.08V1115.47M328.91,1010.47V1124.98M335.47,1113.9V1209.7M342.02,1160.51V1246.7M348.58,1021.89V1134.47M355.14,1079.23V1181.65M361.7,1090.76V1191.02M368.26,1125.5V1219M374.82,1172.25V1255.87M381.37,1219.66V1292.08M387.93,1172.25V1255.87M394.49,1125.5V1219M401.05,1137.14V1228.26M407.61,1184.03V1264.99M414.16,1113.9V1209.7M420.72,1184.03V1264.99M427.28,1137.14V1228.26M433.84,1102.32V1200.37M440.4,1219.66V1292.08M446.96,1184.03V1264.99M453.51,1184.03V1264.99M460.07,1160.51V1246.7M466.63,1148.81V1237.5M473.19,1207.73V1283.1M479.75,1148.81V1237.5M486.3,1184.03V1264.99M492.86,1113.9V1209.7M499.42,1184.03V1264.99M505.98,1113.9V1209.7M512.54,1148.81V1237.5M519.1,1160.51V1246.7M525.65,1172.25V1255.87M532.21,1102.32V1200.37M538.77,897.09V1029.31M545.33,1010.47V1124.98M551.89,1021.89V1134.47M558.45,1113.9V1209.7M565,1113.9V1209.7M571.56,1172.25V1255.87M578.12,1125.5V1219M584.68,1102.32V1200.37M591.24,1195.86V1274.07M597.79,1207.73V1283.1M604.35,1079.23V1181.65M610.91,1090.76V1191.02M617.47,1125.5V1219M624.03,1067.72V1172.25M630.59,1184.03V1264.99M637.14,1172.25V1255.87M643.7,1219.66V1292.08M650.26,1172.25V1255.87M656.82,1231.66V1300.99M663.38,1102.32V1200.37M669.93,1090.76V1191.02M676.49,1207.73V1283.1M683.05,1125.5V1219M689.61,1160.51V1246.7M696.17,1160.51V1246.7M702.73,1148.81V1237.5M709.28,1021.89V1134.47M715.84,1033.32V1143.94M722.4,1033.32V1143.94M728.96,1067.72V1172.25M735.52,1056.24V1162.83M742.07,999.08V1115.47M748.63,1010.47V1124.98M755.19,1113.9V1209.7M761.75,1160.51V1246.7M768.31,1021.89V1134.47M774.87,1079.23V1181.65M781.42,1090.76V1191.02M787.98,1125.5V1219M794.54,1172.25V1255.87M801.1,1219.66V1292.08M807.66,1172.25V1255.87M814.22,1125.5V1219M820.77,1137.14V1228.26M827.33,1184.03V1264.99M833.89,1113.9V1209.7M840.45,1184.03V1264.99M847.01,1137.14V1228.26M853.56,1102.32V1200.37M860.12,1219.66V1292.08M866.68,1184.03V1264.99M873.24,1184.03V1264.99M879.8,1160.51V1246.7M886.36,1148.81V1237.5M892.91,1207.73V1283.1M899.47,1148.81V1237.5M906.03,1184.03V1264.99M912.59,1113.9V1209.7M919.15,1184.03V1264.99M925.7,1113.9V1209.7M932.26,1148.81V1237.5M938.82,1160.51V1246.7" stroke="#000" stroke-width="2.5"/>
<path d="M102.65,1214.06H109.21V1151.35H115.77V963.2H122.32V1067.72H128.88V1078.18H135.44V1161.8H142V1161.8H148.56V1214.06H155.12V1172.25H161.67V1151.35H168.23V1234.96H174.79V1245.42H181.35V1130.44H187.91V1140.89H194.46V1172.25H201.02V1119.99H207.58V1224.51H214.14V1214.06H220.7V1255.87H227.26V1214.06H233.81V1266.32H240.37V1151.35H246.93V1140.89H253.49V1245.42H260.05V1172.25H266.61V1203.61H273.16V1203.61H279.72V1193.15H286.28V1078.18H292.84V1088.63H299.4V1088.63H305.95V1119.99H312.51V1109.53H319.07V1057.27H325.63V1067.72H332.19V1161.8H338.75V1203.61H345.3V1078.18H351.86V1130.44H358.42V1140.89H364.98V1172.25H371.54V1214.06H378.09V1255.87H384.65V1214.06H391.21V1172.25H397.77V1182.7H404.33V1224.51H410.89V1161.8H417.44V1224.51H424V1182.7H430.56V1151.35H437.12V1255.87H443.68V1224.51H450.23V1224.51H456.79V1203.61H463.35V1193.15H469.91V1245.42H476.47V1193.15H483.03V1224.51H489.58V1161.8H496.14V1224.51H502.7V1161.8H509.26V1193.15H515.82V1203.61H522.38V1214.06H528.93V1151.35H535.49V963.2H542.05V1067.72H548.61V1078.18H555.17V1161.8H561.72V1161.8H568.28V1214.06H574.84V1172.25H581.4V1151.35H587.96V1234.96H594.52V1245.42H601.07V1130.44H607.63V1140.89H614.19V1172.25H620.75V1119.99H627.31V1224.51H633.86V1214.06H640.42V1255.87H646.98V1214.06H653.54V1266.32H660.1V1151.35H666.66V1140.89H673.21V1245.42H679.77V1172.25H686.33V1203.61H692.89V1203.61H699.45V1193.15H706V1078.18H712.56V1088.63H719.12V1088.63H725.68V1119.99H732.24V1109.53H738.8V1057.27H745.35V1067.72H751.91V1161.8H758.47V1203.61H765.03V1078.18H771.59V1130.44H778.14V1140.89H784.7V1172.25H791.26V1214.06H797.82V1255.87H804.38V1214.06H810.94V1172.25H817.49V1182.7H824.05V1224.51H830.61V1161.8H837.17V1224.51H843.73V1182.7H850.29V1151.35H856.84V1255.87H863.4V1224.51H869.96V1224.51H876.52V1203.61H883.08V1193.15H889.63V1245.42H896.19V1193.15H902.75V1224.51H909.31V1161.8H915.87V1224.51H922.43V1161.8H928.98V1193.15H935.54V1203.61H942.1" stroke="#000" stroke-width="2.7" stroke-linejoin="miter"/>
<path d="M148.82,754.15V1381.3" stroke="#00f" stroke-width="2" stroke-dasharray="7.5 7.6" stroke-dashoffset="14.4"/>
<path d="M278.93,754.15V1381.3" stroke="#00f" stroke-width="2" stroke-dasharray="7.5 7.6" stroke-dashoffset="14.4"/>
<path d="M367.08,754.15V1381.3" stroke="#00f" stroke-width="2" stroke-dasharray="7.5 7.6" stroke-dashoffset="14.4"/>
<path d="M522.38,754.15V1381.3" stroke="#00f" stroke-width="2" stroke-dasharray="7.5 7.6" stroke-dashoffset="14.4"/>
<path d="M102.65,1331.44H109.21V1334.68H115.77V1331.44H122.32V1323.5H128.88V1318.9H135.44V1341.48H142V1350.15H148.56V1324.44H155.12V1330.71H161.67V1343.67H168.23V1349.94H174.79V1347.02H181.35V1355.48H187.91V1337.71H194.46V1331.44H201.02V1339.7H207.58V1340.22" stroke="#f00" stroke-width="2.5" stroke-dasharray="10 9.5" stroke-dashoffset="14.5"/>
<path d="M207.58,1340.22H214.14V1334.47H220.7V1355.69H227.26V1349.42H233.81V1324.44H240.37V1334.47H246.93V1336.98H253.49V1347.85H260.05V1337.19H266.61V1331.44H273.16V1337.19H279.72V1334.47H286.28V1344.72H292.84V1339.7H299.4V1337.71H305.95V1349.73H312.51V1344.72" stroke="#f00" stroke-width="2.5" stroke-dasharray="10 9.5" stroke-dashoffset="7.1"/>
<path d="M312.51,1344.72H319.07V1360.19H325.63V1331.44H332.19V1344.72H338.75V1321.41H345.3V1352.24H351.86V1331.96H358.42V1336.98H364.98V1342.21H371.54V1352.66H378.09V1342.21H384.65V1331.96H391.21V1331.96H397.77V1316.29H404.33V1326.11H410.89V1349.42H417.44V1333.74" stroke="#f00" stroke-width="2.5" stroke-dasharray="10 9.5" stroke-dashoffset="15.65"/>
<path d="M417.44,1333.74H424V1347.85H430.56V1323.92H437.12V1341.48H443.68V1339.91H450.23V1344.72H456.79V1346.81H463.35V1318.38H469.91V1320.88H476.47V1339.49H483.03V1339.7H489.58V1336.98H496.14V1352.66H502.7V1353.08H509.26V1347.22H515.82V1333.95H522.38V1331.44" stroke="#f00" stroke-width="2.5" stroke-dasharray="10 9.5" stroke-dashoffset="5.25"/>
<path d="M522.38,1331.44H528.93V1334.68H535.49V1331.44H542.05V1323.5H548.61V1318.9H555.17V1341.48H561.72V1350.15H568.28V1324.44H574.84V1330.71H581.4V1343.67H587.96V1349.94H594.52V1347.02H601.07V1355.48H607.63V1337.71H614.19V1331.44H620.75V1339.7H627.31V1340.22" stroke="#f00" stroke-width="2.5" stroke-dasharray="10 9.5" stroke-dashoffset="6.5"/>
<path d="M627.31,1340.22H633.86V1334.47H640.42V1355.69H646.98V1349.42H653.54V1324.44H660.1V1334.47H666.66V1336.98H673.21V1347.85H679.77V1337.19H686.33V1331.44H692.89V1337.19H699.45V1334.47H706V1344.72H712.56V1339.7H719.12V1337.71H725.68V1349.73H732.24V1344.72" stroke="#f00" stroke-width="2.5" stroke-dasharray="10 9.5" stroke-dashoffset="17.9"/>
<path d="M732.24,1344.72H738.8V1360.19H745.35V1331.44H751.91V1344.72H758.47V1321.41H765.03V1352.24H771.59V1331.96H778.14V1336.98H784.7V1342.21H791.26V1352.66H797.82V1342.21H804.38V1331.96H810.94V1331.96H817.49V1316.29H824.05V1326.11H830.61V1349.42H837.17V1333.74" stroke="#f00" stroke-width="2.5" stroke-dasharray="10 9.5" stroke-dashoffset="7.2"/>
<path d="M837.17,1333.74H843.73V1347.85H850.29V1323.92H856.84V1341.48H863.4V1339.91H869.96V1344.72H876.52V1346.81H883.08V1318.38H889.63V1320.88H896.19V1339.49H902.75V1339.7H909.31V1336.98H915.87V1352.66H922.43V1353.08H928.98V1347.22H935.54V1333.95H942.1" stroke="#f00" stroke-width="2.5" stroke-dasharray="10 9.5" stroke-dashoffset="17.05"/>
</g>
<rect x="102.65" y="754.15" width="839.45" height="627.15" fill="none" stroke="#000" stroke-width="1.56"/>
<path d="M109.05,837.77H142.42M115.85,833.77L108.65,837.77L115.85,841.77M135.62,833.77L142.82,837.77L135.62,841.77M155.22,837.77H272.54M162.02,833.77L154.82,837.77L162.02,841.77M265.74,833.77L272.94,837.77L265.74,841.77M285.33,837.77H360.68M292.13,833.77L284.93,837.77L292.13,841.77M353.88,833.77L361.08,837.77L353.88,841.77M373.47,837.77H515.98M380.27,833.77L373.07,837.77L380.27,841.77M509.18,833.77L516.38,837.77L509.18,841.77" stroke="#000" stroke-width="1.8" fill="none" stroke-linejoin="miter" stroke-linecap="round"/>
<g font-size="33.1" text-anchor="middle">
<text x="125.73" y="817.2">on</text>
<text x="213.88" y="817.2">off</text>
<text x="323.01" y="817.2">on</text>
<text x="444.73" y="817.2">off</text>
</g>
<g font-size="41" text-anchor="end" fill="#000">
<text transform="translate(88,1396.7) scale(1,1.060)">0</text>
<text transform="translate(88,1292.18) scale(1,1.060)">10</text>
<text transform="translate(88,1187.65) scale(1,1.060)">20</text>
<text transform="translate(88,1083.12) scale(1,1.060)">30</text>
<text transform="translate(88,978.6) scale(1,1.060)">40</text>
<text transform="translate(88,874.07) scale(1,1.060)">50</text>
<text transform="translate(88,769.55) scale(1,1.060)">60</text>
</g>
<g font-size="41" text-anchor="middle" fill="#000">
<text transform="translate(102.65,1426.2) scale(1,1.060)">0.0</text>
<text transform="translate(312.51,1426.2) scale(1,1.060)">0.5</text>
<text transform="translate(522.38,1426.2) scale(1,1.060)">1.0</text>
<text transform="translate(732.24,1426.2) scale(1,1.060)">1.5</text>
<text transform="translate(942.1,1426.2) scale(1,1.060)">2.0</text>
</g>
<text x="522.3" y="1473" font-size="45.3" text-anchor="middle">Phase (ϕ)</text>
<text transform="translate(28.2,1067.7) rotate(-90)" font-size="45.3" text-anchor="middle">counts</text>
</g>
</svg>
</body>
</html>
